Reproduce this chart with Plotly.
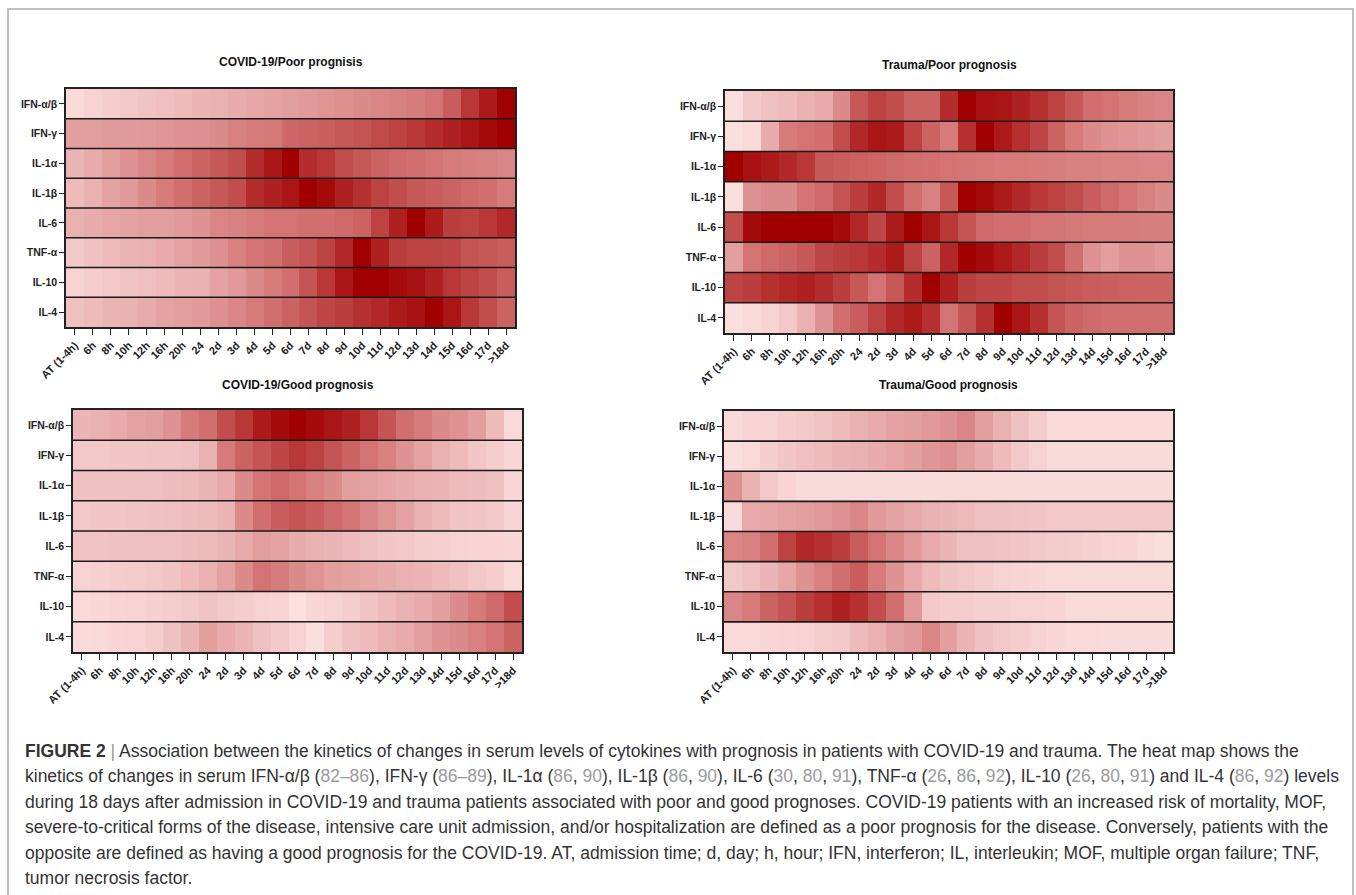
import plotly.graph_objects as go

# ---------------- data ----------------
time_points = ["AT (1-4h)", "6h", "8h", "10h", "12h", "16h", "20h", "24", "2d", "3d", "4d", "5d",
               "6d", "7d", "8d", "9d", "10d", "11d", "12d", "13d", "14d", "15d", "16d", "17d", ">18d"]
cytokines = ["IFN-α/β", "IFN-γ", "IL-1α", "IL-1β", "IL-6", "TNF-α", "IL-10", "IL-4"]

covid_poor = [
    [0.05, 0.08, 0.10, 0.12, 0.14, 0.16, 0.18, 0.20, 0.22, 0.24, 0.26, 0.28, 0.30, 0.32, 0.34, 0.36, 0.38, 0.40, 0.42, 0.44, 0.47, 0.58, 0.75, 0.88, 1.00],
    [0.30, 0.30, 0.31, 0.31, 0.32, 0.33, 0.35, 0.36, 0.38, 0.42, 0.44, 0.46, 0.53, 0.55, 0.57, 0.60, 0.62, 0.66, 0.70, 0.75, 0.80, 0.85, 0.90, 0.95, 1.00],
    [0.20, 0.25, 0.30, 0.35, 0.40, 0.45, 0.50, 0.55, 0.60, 0.65, 0.80, 0.90, 1.00, 0.80, 0.75, 0.65, 0.60, 0.55, 0.52, 0.50, 0.48, 0.45, 0.43, 0.42, 0.40],
    [0.18, 0.22, 0.28, 0.32, 0.38, 0.45, 0.50, 0.55, 0.60, 0.65, 0.80, 0.85, 0.90, 1.00, 0.95, 0.85, 0.78, 0.70, 0.65, 0.60, 0.58, 0.55, 0.52, 0.50, 0.45],
    [0.22, 0.24, 0.26, 0.28, 0.30, 0.30, 0.32, 0.35, 0.40, 0.42, 0.45, 0.48, 0.48, 0.50, 0.50, 0.52, 0.55, 0.70, 0.85, 1.00, 0.88, 0.72, 0.70, 0.75, 0.82],
    [0.12, 0.15, 0.18, 0.20, 0.22, 0.25, 0.28, 0.32, 0.36, 0.42, 0.48, 0.50, 0.58, 0.62, 0.70, 0.82, 1.00, 0.85, 0.72, 0.70, 0.70, 0.68, 0.62, 0.60, 0.58],
    [0.08, 0.10, 0.12, 0.14, 0.16, 0.18, 0.20, 0.22, 0.28, 0.32, 0.38, 0.45, 0.50, 0.62, 0.75, 0.90, 1.00, 1.00, 0.95, 0.92, 0.85, 0.75, 0.70, 0.65, 0.58],
    [0.15, 0.18, 0.20, 0.22, 0.25, 0.28, 0.30, 0.32, 0.36, 0.40, 0.45, 0.50, 0.55, 0.62, 0.68, 0.72, 0.78, 0.82, 0.88, 0.92, 1.00, 0.90, 0.75, 0.65, 0.55],
]

trauma_poor = [
    [0.03, 0.12, 0.15, 0.18, 0.22, 0.25, 0.38, 0.60, 0.70, 0.65, 0.55, 0.55, 0.80, 1.00, 0.92, 0.90, 0.85, 0.78, 0.70, 0.60, 0.50, 0.48, 0.45, 0.42, 0.40],
    [0.03, 0.05, 0.25, 0.45, 0.48, 0.50, 0.65, 0.82, 0.90, 0.88, 0.70, 0.55, 0.45, 0.78, 1.00, 0.88, 0.78, 0.68, 0.55, 0.45, 0.38, 0.35, 0.33, 0.32, 0.30],
    [1.00, 0.92, 0.88, 0.82, 0.75, 0.60, 0.58, 0.56, 0.54, 0.52, 0.50, 0.49, 0.48, 0.47, 0.46, 0.45, 0.45, 0.44, 0.43, 0.42, 0.42, 0.41, 0.41, 0.40, 0.40],
    [0.03, 0.35, 0.38, 0.38, 0.48, 0.52, 0.62, 0.72, 0.82, 0.65, 0.50, 0.42, 0.60, 1.00, 0.95, 0.88, 0.82, 0.75, 0.70, 0.65, 0.58, 0.52, 0.48, 0.42, 0.38],
    [0.65, 0.95, 1.00, 1.00, 1.00, 1.00, 0.95, 0.82, 0.68, 0.88, 1.00, 0.90, 0.75, 0.62, 0.52, 0.50, 0.50, 0.48, 0.47, 0.46, 0.45, 0.45, 0.44, 0.43, 0.43],
    [0.30, 0.48, 0.52, 0.55, 0.60, 0.68, 0.72, 0.75, 0.80, 0.88, 0.70, 0.55, 0.82, 1.00, 0.95, 0.88, 0.82, 0.72, 0.65, 0.50, 0.35, 0.30, 0.35, 0.35, 0.32],
    [0.70, 0.72, 0.78, 0.82, 0.85, 0.80, 0.72, 0.60, 0.48, 0.60, 0.80, 1.00, 0.85, 0.72, 0.68, 0.68, 0.65, 0.65, 0.62, 0.60, 0.58, 0.57, 0.56, 0.55, 0.55],
    [0.03, 0.05, 0.07, 0.12, 0.22, 0.35, 0.50, 0.58, 0.70, 0.82, 0.88, 0.78, 0.48, 0.62, 0.78, 1.00, 0.90, 0.78, 0.62, 0.55, 0.52, 0.50, 0.50, 0.50, 0.50],
]

covid_good = [
    [0.20, 0.22, 0.25, 0.28, 0.30, 0.35, 0.45, 0.50, 0.65, 0.75, 0.88, 0.95, 1.00, 0.95, 0.90, 0.85, 0.75, 0.62, 0.50, 0.45, 0.38, 0.35, 0.30, 0.18, 0.05],
    [0.12, 0.12, 0.13, 0.13, 0.14, 0.14, 0.15, 0.22, 0.45, 0.55, 0.62, 0.68, 0.75, 0.70, 0.62, 0.55, 0.48, 0.42, 0.35, 0.28, 0.22, 0.18, 0.13, 0.10, 0.06],
    [0.15, 0.15, 0.15, 0.16, 0.16, 0.17, 0.18, 0.20, 0.25, 0.38, 0.48, 0.52, 0.48, 0.42, 0.38, 0.30, 0.28, 0.26, 0.24, 0.22, 0.20, 0.18, 0.17, 0.16, 0.06],
    [0.12, 0.13, 0.13, 0.14, 0.15, 0.16, 0.17, 0.18, 0.20, 0.38, 0.50, 0.58, 0.62, 0.58, 0.52, 0.48, 0.40, 0.34, 0.28, 0.22, 0.18, 0.14, 0.13, 0.12, 0.07],
    [0.14, 0.14, 0.15, 0.15, 0.16, 0.16, 0.17, 0.18, 0.20, 0.25, 0.30, 0.28, 0.24, 0.22, 0.20, 0.18, 0.15, 0.13, 0.12, 0.10, 0.09, 0.08, 0.07, 0.07, 0.06],
    [0.08, 0.09, 0.10, 0.11, 0.12, 0.14, 0.18, 0.22, 0.28, 0.38, 0.48, 0.44, 0.38, 0.34, 0.30, 0.28, 0.26, 0.24, 0.22, 0.20, 0.18, 0.15, 0.12, 0.10, 0.05],
    [0.05, 0.06, 0.07, 0.08, 0.09, 0.10, 0.12, 0.14, 0.12, 0.10, 0.08, 0.07, 0.02, 0.06, 0.08, 0.10, 0.14, 0.18, 0.22, 0.25, 0.30, 0.38, 0.45, 0.52, 0.65],
    [0.04, 0.05, 0.07, 0.08, 0.10, 0.15, 0.20, 0.30, 0.25, 0.20, 0.15, 0.12, 0.08, 0.03, 0.10, 0.15, 0.18, 0.22, 0.25, 0.30, 0.35, 0.38, 0.42, 0.48, 0.55],
]

trauma_good = [
    [0.05, 0.07, 0.08, 0.10, 0.12, 0.14, 0.18, 0.22, 0.25, 0.28, 0.30, 0.32, 0.35, 0.40, 0.30, 0.22, 0.15, 0.10, 0.05, 0.05, 0.05, 0.05, 0.05, 0.05, 0.05],
    [0.03, 0.05, 0.10, 0.13, 0.16, 0.18, 0.20, 0.22, 0.24, 0.26, 0.30, 0.33, 0.36, 0.30, 0.25, 0.18, 0.12, 0.08, 0.04, 0.04, 0.04, 0.04, 0.04, 0.04, 0.04],
    [0.35, 0.22, 0.12, 0.07, 0.04, 0.04, 0.04, 0.04, 0.04, 0.04, 0.04, 0.04, 0.04, 0.04, 0.04, 0.04, 0.04, 0.04, 0.04, 0.04, 0.04, 0.04, 0.04, 0.04, 0.04],
    [0.04, 0.25, 0.26, 0.28, 0.30, 0.32, 0.35, 0.40, 0.32, 0.28, 0.25, 0.22, 0.20, 0.18, 0.16, 0.15, 0.14, 0.13, 0.12, 0.12, 0.12, 0.12, 0.12, 0.12, 0.12],
    [0.40, 0.42, 0.50, 0.70, 0.82, 0.78, 0.72, 0.58, 0.48, 0.40, 0.32, 0.25, 0.20, 0.16, 0.15, 0.14, 0.13, 0.12, 0.11, 0.10, 0.09, 0.08, 0.07, 0.04, 0.03],
    [0.12, 0.15, 0.20, 0.26, 0.35, 0.42, 0.50, 0.58, 0.45, 0.35, 0.25, 0.18, 0.14, 0.12, 0.10, 0.08, 0.07, 0.06, 0.05, 0.05, 0.05, 0.05, 0.05, 0.05, 0.05],
    [0.40, 0.45, 0.55, 0.62, 0.72, 0.78, 0.85, 0.78, 0.65, 0.50, 0.32, 0.12, 0.10, 0.10, 0.09, 0.09, 0.08, 0.08, 0.07, 0.05, 0.05, 0.05, 0.05, 0.05, 0.05],
    [0.05, 0.05, 0.06, 0.07, 0.08, 0.10, 0.12, 0.18, 0.22, 0.28, 0.32, 0.40, 0.30, 0.20, 0.15, 0.12, 0.10, 0.08, 0.06, 0.05, 0.05, 0.04, 0.04, 0.04, 0.04],
]

panel_titles = ["COVID-19/Poor prognisis", "Trauma/Poor prognosis",
                "COVID-19/Good prognosis", "Trauma/Good prognosis"]

G = "<span style='color:#9a9a9a'>{}</span>"
caption_lines = [
    "<b>FIGURE 2</b> " + G.format("|") + " Association between the kinetics of changes in serum levels of cytokines with prognosis in patients with COVID-19 and trauma. The heat map shows the",
    "kinetics of changes in serum IFN-α/β (" + G.format("82–86") + "), IFN-γ (" + G.format("86–89") + "), IL-1α ("
    + G.format("86") + ", " + G.format("90") + "), IL-1β (" + G.format("86") + ", " + G.format("90") + "), IL-6 ("
    + G.format("30") + ", " + G.format("80") + ", " + G.format("91") + "), TNF-α (" + G.format("26") + ", "
    + G.format("86") + ", " + G.format("92") + "), IL-10 (" + G.format("26") + ", " + G.format("80") + ", "
    + G.format("91") + ") and IL-4 (" + G.format("86") + ", " + G.format("92") + ") levels",
    "during 18 days after admission in COVID-19 and trauma patients associated with poor and good prognoses. COVID-19 patients with an increased risk of mortality, MOF,",
    "severe-to-critical forms of the disease, intensive care unit admission, and/or hospitalization are defined as a poor prognosis for the disease. Conversely, patients with the",
    "opposite are defined as having a good prognosis for the COVID-19. AT, admission time; d, day; h, hour; IFN, interferon; IL, interleukin; MOF, multiple organ failure; TNF,",
    "tumor necrosis factor.",
]

# ---------------- layout geometry (pixels) ----------------
W, H = 1356, 895
panels = [
    # (data, x0, x1, y_top, y_bottom, title_y)
    (covid_poor, 66, 515, 89, 327, 62),
    (trauma_poor, 725, 1173, 91, 333, 65),
    (covid_good, 73, 522, 410, 652, 385),
    (trauma_good, 724, 1173, 411, 652, 385),
]

colorscale = [[0.0, "rgb(254,229,229)"], [0.5, "rgb(209,110,110)"], [1.0, "rgb(160,0,0)"]]
label_font = "Liberation Sans Narrow, Arial Narrow, Liberation Sans, Arial, sans-serif"
caption_font = "Liberation Sans, Arial, Helvetica, sans-serif"

fig = go.Figure()
shapes = []
annotations = []

for i, (z, x0, x1, yt, yb, ty) in enumerate(panels):
    k = "" if i == 0 else str(i + 1)
    fig.add_trace(go.Heatmap(
        z=z, x=time_points, y=cytokines, colorscale=colorscale, zmin=0, zmax=1,
        showscale=False, xaxis="x" + k, yaxis="y" + k, hoverinfo="x+y+z",
    ))
    xdom = [x0 / W, x1 / W]
    ydom = [1 - yb / H, 1 - yt / H]
    fig.layout["xaxis" + k] = dict(
        domain=xdom, anchor="y" + k, type="category", categoryorder="array",
        categoryarray=time_points, tickangle=-45, ticks="outside", ticklen=6,
        tickwidth=1.3, tickcolor="#222", showline=True, mirror=True,
        linecolor="#222", linewidth=1.5, showgrid=False, zeroline=False,
        automargin=False,
        tickfont=dict(family=label_font, size=11, color="#222", weight="bold"),
        fixedrange=True,
    )
    fig.layout["yaxis" + k] = dict(
        domain=ydom, anchor="x" + k, type="category", categoryorder="array",
        categoryarray=cytokines, autorange="reversed", ticks="outside", ticklen=5,
        tickwidth=1.3, tickcolor="#222", showline=True, mirror=True,
        linecolor="#222", linewidth=1.5, showgrid=False, zeroline=False,
        automargin=False,
        tickfont=dict(family=label_font, size=10.5, color="#222", weight="bold"),
        fixedrange=True,
    )
    # row separators
    for r in range(len(cytokines) - 1):
        shapes.append(dict(
            type="line", xref=("x" + k) + " domain", yref="y" + k,
            x0=0, x1=1, y0=r + 0.5, y1=r + 0.5,
            line=dict(color="#1a1a1a", width=1.6),
        ))
    annotations.append(dict(
        text="<b>" + panel_titles[i] + "</b>", xref="paper", yref="paper",
        x=(x0 + x1) / 2 / W, y=1 - ty / H, xanchor="center", yanchor="middle",
        showarrow=False, font=dict(family=label_font, size=12, color="#111"),
    ))

# outer frame
shapes.append(dict(type="rect", xref="paper", yref="paper",
                   x0=8 / W, x1=1353 / W, y0=-0.02, y1=1 - 9 / H,
                   line=dict(color="#aaaaaa", width=1.5), fillcolor="rgba(0,0,0,0)"))

# caption
for j, line in enumerate(caption_lines):
    annotations.append(dict(
        text=line, xref="paper", yref="paper", x=23 / W, y=1 - (751 + 25.4 * j) / H,
        xanchor="left", yanchor="middle", showarrow=False, align="left",
        font=dict(family=caption_font, size=17.5, color="#333"),
    ))

fig.update_layout(
    width=W, height=H, margin=dict(l=0, r=0, t=0, b=0, autoexpand=False),
    paper_bgcolor="white", plot_bgcolor="white",
    shapes=shapes, annotations=annotations, showlegend=False,
)

fig.write_html("out.html")
